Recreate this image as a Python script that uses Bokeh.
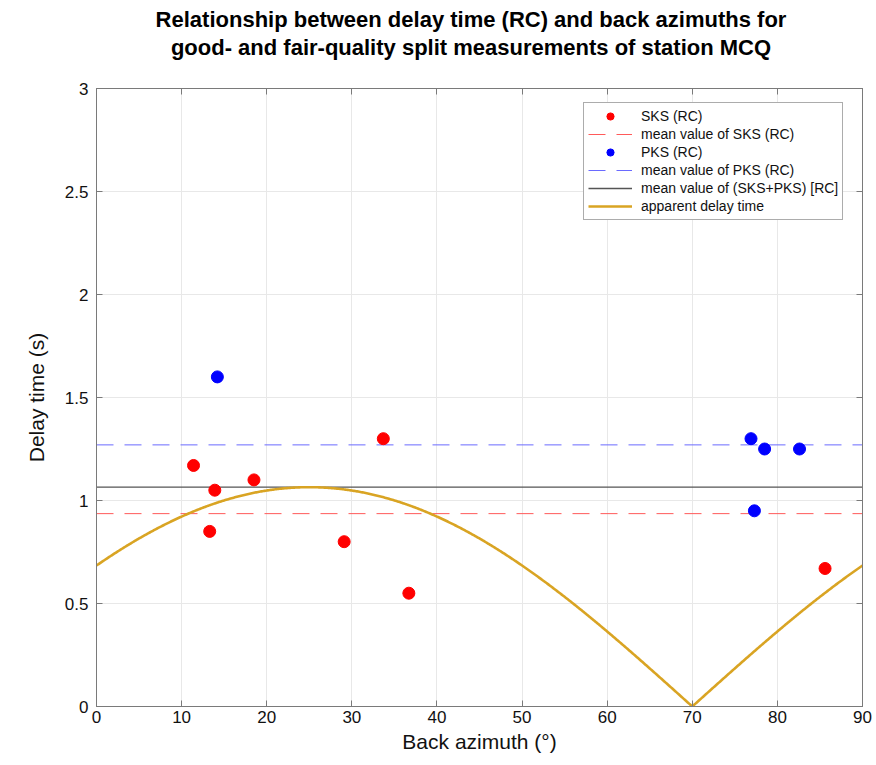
import numpy as np
from bokeh.plotting import figure
from bokeh.layouts import column
from bokeh.models import (ColumnDataSource, Legend, LegendItem, LinearAxis,
                          FixedTicker, Range1d, Div)
from bokeh.embed import file_html
from bokeh.resources import INLINE

# Split measurements at station MCQ (rotation-correlation method)
sks_baz = [11.4, 13.9, 13.3, 18.5, 33.7, 29.1, 36.7, 85.6]
sks_dt = [1.17, 1.05, 0.85, 1.10, 1.30, 0.80, 0.55, 0.67]
pks_baz = [14.2, 76.9, 78.5, 82.6, 77.3]
pks_dt = [1.60, 1.30, 1.25, 1.25, 0.95]

# Fast-axis direction used for the apparent delay-time model (degrees)
fast_axis = 25.0

x_ticks = [0, 10, 20, 30, 40, 50, 60, 70, 80, 90]
y_ticks = [0, 0.5, 1, 1.5, 2, 2.5, 3]
y_tick_labels = ["0", "0.5", "1", "1.5", "2", "2.5", "3"]

TITLE_LINES = ["Relationship between delay time (RC) and back azimuths for",
               "good- and fair-quality split measurements of station MCQ"]
FONT = "Liberation Sans"
AXIS_COLOR = "#7a7a7a"

sks_mean = float(np.mean(sks_dt))
pks_mean = float(np.mean(pks_dt))
all_mean = float(np.mean(sks_dt + pks_dt))

# Apparent delay time: |dt * cos(2 (baz - phi))|
baz_model = np.linspace(0, 90, 721)
dt_model = np.abs(all_mean * np.cos(np.radians(2 * (baz_model - fast_axis))))

# Two-line bold heading, centred over the axes
heading = Div(
    text=('<div style="box-sizing:border-box;width:876px;padding-left:66px;'
          'padding-top:6px;text-align:center;font-family:\'Liberation Sans\';'
          'font-weight:bold;font-size:22px;line-height:28px;color:#000;">'
          + "<br>".join(TITLE_LINES) + '</div>'),
    width=876, height=78, margin=0)

p = figure(width=876, height=687, output_backend="svg", toolbar_location=None,
           x_range=Range1d(0, 90), y_range=Range1d(0, 3),
           min_border_left=96, min_border_right=14, min_border_top=10,
           min_border_bottom=59, title=None, margin=0)

p.outline_line_color = AXIS_COLOR
p.outline_line_width = 1
p.background_fill_color = "white"
p.border_fill_color = "white"

# Grid
p.xgrid.ticker = FixedTicker(ticks=x_ticks)
p.ygrid.ticker = FixedTicker(ticks=y_ticks)
for g in (p.xgrid[0], p.ygrid[0]):
    g.grid_line_color = "#e8e8e8"
    g.grid_line_width = 1

# Axes (ticks inside, like a boxed plot)
xa = p.xaxis[0]
ya = p.yaxis[0]
xa.ticker = FixedTicker(ticks=x_ticks)
ya.ticker = FixedTicker(ticks=y_ticks)
ya.major_label_overrides = {float(t): s for t, s in zip(y_ticks, y_tick_labels)}
xa.axis_label = "Back azimuth (°)"
ya.axis_label = "Delay time (s)"
for ax in (xa, ya):
    ax.axis_line_color = AXIS_COLOR
    ax.major_tick_line_color = AXIS_COLOR
    ax.major_tick_in = 6
    ax.major_tick_out = 0
    ax.minor_tick_line_color = None
    ax.major_label_text_font = FONT
    ax.major_label_text_font_size = "17px"
    ax.major_label_text_color = "#111111"
    ax.axis_label_text_font = FONT
    ax.axis_label_text_font_size = "21px"
    ax.axis_label_text_font_style = "normal"
    ax.axis_label_text_color = "#111111"
xa.major_label_standoff = 4
xa.axis_label_standoff = 4
ya.major_label_standoff = 8
ya.axis_label_standoff = 14

# Box ticks on top and right
top = LinearAxis(ticker=FixedTicker(ticks=x_ticks), major_label_text_font_size="0px",
                 major_tick_in=6, major_tick_out=0, minor_tick_line_color=None,
                 axis_line_color=AXIS_COLOR, major_tick_line_color=AXIS_COLOR,
                 major_label_standoff=0)
right = LinearAxis(ticker=FixedTicker(ticks=y_ticks), major_label_text_font_size="0px",
                   major_tick_in=6, major_tick_out=0, minor_tick_line_color=None,
                   axis_line_color=AXIS_COLOR, major_tick_line_color=AXIS_COLOR,
                   major_label_standoff=0)
p.add_layout(top, "above")
p.add_layout(right, "right")

# Mean lines
r_sks_mean = p.line([0, 90], [sks_mean, sks_mean], line_color="#ff5a5a",
                    line_width=1, line_dash="17 11")
r_pks_mean = p.line([0, 90], [pks_mean, pks_mean], line_color="#6a6aff",
                    line_width=1, line_dash="17 11")
r_all_mean = p.line([0, 90], [all_mean, all_mean], line_color="#555555",
                    line_width=1.3)

# Apparent delay time model
r_model = p.line(baz_model, dt_model, line_color="#D9A423", line_width=2.6)

# Measurements
sks_src = ColumnDataSource(dict(baz=sks_baz, dt=sks_dt))
pks_src = ColumnDataSource(dict(baz=pks_baz, dt=pks_dt))
r_sks = p.scatter("baz", "dt", source=sks_src, size=12, marker="circle",
                  fill_color="#ff0000", line_color="#ff0000")
r_pks = p.scatter("baz", "dt", source=pks_src, size=12, marker="circle",
                  fill_color="#0000ff", line_color="#0000ff")

legend = Legend(items=[
    LegendItem(label="SKS (RC)", renderers=[r_sks]),
    LegendItem(label="mean value of SKS (RC)", renderers=[r_sks_mean]),
    LegendItem(label="PKS (RC)", renderers=[r_pks]),
    LegendItem(label="mean value of PKS (RC)", renderers=[r_pks_mean]),
    LegendItem(label="mean value of (SKS+PKS) [RC]", renderers=[r_all_mean]),
    LegendItem(label="apparent delay time", renderers=[r_model]),
], location=(487, 486))
legend.label_text_font = FONT
legend.label_text_font_size = "14px"
legend.label_text_color = "#111111"
legend.glyph_width = 44
legend.glyph_height = 18
legend.label_height = 18
legend.label_standoff = 9
legend.spacing = 0
legend.padding = 4
legend.margin = 0
legend.border_line_color = "#5a5a5a"
legend.border_line_width = 1
legend.background_fill_color = "white"
legend.background_fill_alpha = 1
p.add_layout(legend, "center")

page = column(heading, p, spacing=0)
open("out.html", "w").write(file_html(page, INLINE))
